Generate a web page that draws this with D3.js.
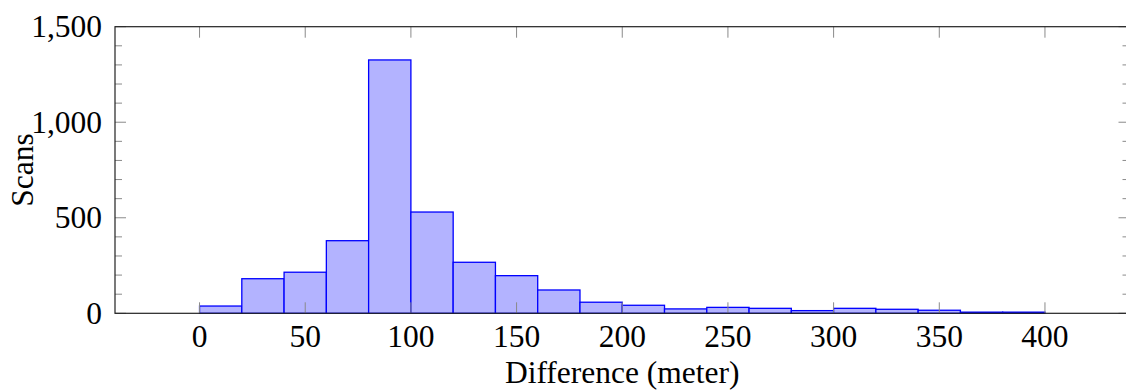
<!DOCTYPE html>
<html>
<head>
<meta charset="utf-8">
<script src="https://cdn.jsdelivr.net/npm/d3@7"></script>
<style>
  body { margin: 0; background: #fff; }
  svg text { font-family: 'Liberation Serif', 'Times New Roman', Times, serif; fill: #000; }
</style>
</head>
<body>
<svg id="chart" width="1126" height="390"></svg>
<script>
// histogram bins (start of each 20 m bin) and counts
const binStarts = [0, 20, 40, 60, 80, 100, 120, 140, 160, 180, 200, 220, 240, 260, 280, 300, 320, 340, 360, 380];
const binWidth = 20;
const scans = [38, 181, 215, 380, 1326, 530, 267, 197, 122, 58, 42, 23, 31, 26, 14, 26, 21, 16, 6, 6];

const xTicks = [0, 50, 100, 150, 200, 250, 300, 350, 400];
const yTicks = [0, 500, 1000, 1500];
const yMinorTicks = [100, 200, 300, 400, 600, 700, 800, 900, 1100, 1200, 1300, 1400];

const svg = d3.select("#chart");

// plot box (window.top is taken, so prefix these)
const plotLeft = 115, plotRight = 1129.5, plotTop = 26.7, plotBottom = 313.3;

const x = d3.scaleLinear().domain([-40, 440]).range([plotLeft, plotRight]);
const y = d3.scaleLinear().domain([0, 1500]).range([plotBottom, plotTop]);

const fmt = d3.format(",");
const serif = "'Liberation Serif', 'Times New Roman', Times, serif";
const fontSize = 31.5;

// bars
svg.append("g")
  .selectAll("rect")
  .data(binStarts)
  .join("rect")
  .attr("x", d => x(d))
  .attr("y", (d, i) => y(scans[i]))
  .attr("width", d => x(d + binWidth) - x(d))
  .attr("height", (d, i) => y(0) - y(scans[i]))
  .attr("fill", "#b3b3ff")
  .attr("stroke", "#0000ff")
  .attr("stroke-width", 1.3);

// ticks (drawn inward, on all four sides)
const ticks = svg.append("g").attr("stroke", "#8a8a8a").attr("stroke-width", 1);
const majorLen = 11, minorLen = 7;

xTicks.forEach(t => {
  ticks.append("line").attr("x1", x(t)).attr("x2", x(t)).attr("y1", plotBottom).attr("y2", plotBottom - majorLen);
  ticks.append("line").attr("x1", x(t)).attr("x2", x(t)).attr("y1", plotTop).attr("y2", plotTop + majorLen);
});
yTicks.forEach(t => {
  ticks.append("line").attr("x1", plotLeft).attr("x2", plotLeft + majorLen).attr("y1", y(t)).attr("y2", y(t));
  ticks.append("line").attr("x1", plotRight).attr("x2", plotRight - majorLen).attr("y1", y(t)).attr("y2", y(t));
});
yMinorTicks.forEach(t => {
  ticks.append("line").attr("x1", plotLeft).attr("x2", plotLeft + minorLen).attr("y1", y(t)).attr("y2", y(t));
  ticks.append("line").attr("x1", plotRight).attr("x2", plotRight - minorLen).attr("y1", y(t)).attr("y2", y(t));
});

// axis frame
svg.append("rect")
  .attr("x", plotLeft)
  .attr("y", plotTop)
  .attr("width", plotRight - plotLeft)
  .attr("height", plotBottom - plotTop)
  .attr("fill", "none")
  .attr("stroke", "#222")
  .attr("stroke-width", 1.2);

// tick labels
svg.append("g")
  .selectAll("text")
  .data(xTicks)
  .join("text")
  .attr("x", d => x(d))
  .attr("y", 347)
  .attr("text-anchor", "middle")
  .attr("font-family", serif)
  .attr("font-size", fontSize)
  .text(d => fmt(d));

svg.append("g")
  .selectAll("text")
  .data(yTicks)
  .join("text")
  .attr("x", 102)
  .attr("y", d => y(d) + 10.5)
  .attr("text-anchor", "end")
  .attr("font-family", serif)
  .attr("font-size", fontSize)
  .text(d => fmt(d));

// axis titles
svg.append("text")
  .attr("x", (plotLeft + plotRight) / 2)
  .attr("y", 383)
  .attr("text-anchor", "middle")
  .attr("font-family", serif)
  .attr("font-size", fontSize)
  .text("Difference (meter)");

svg.append("text")
  .attr("transform", `translate(33,${(plotTop + plotBottom) / 2}) rotate(-90)`)
  .attr("text-anchor", "middle")
  .attr("font-family", serif)
  .attr("font-size", fontSize)
  .text("Scans");
</script>
</body>
</html>
